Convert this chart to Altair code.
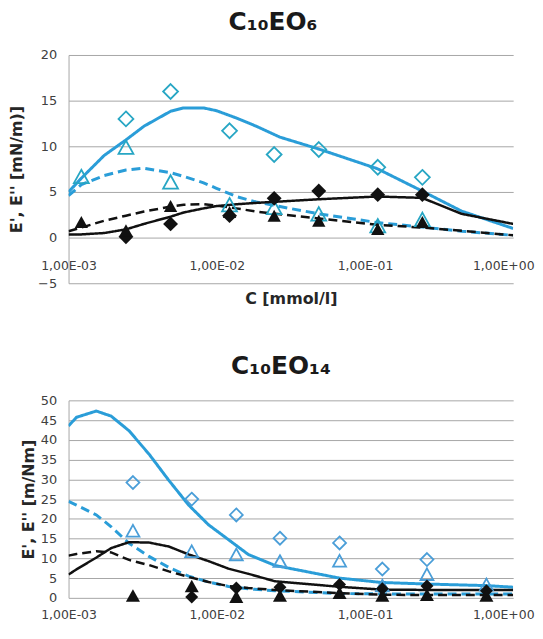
import altair as alt
import pandas as pd

# ---------------- C10EO6 (top panel) ----------------
top_title = "C\u2081\u2080EO\u2086"
top_ytitle = "E', E'' [mN/m)]"
top_xtitle = "C [mmol/l]"
top_conc = [0.00122, 0.00244, 0.00488, 0.0122, 0.0244, 0.0488, 0.122, 0.244]
top_cyan_diamond = [None, 13.0, 16.0, 11.7, 9.1, 9.65, 7.7, 6.6]
top_cyan_tri = [6.7, 9.9, 6.1, 3.6, 3.3, 2.6, 1.3, 2.0]
top_black_diamond = [None, 0.1, 1.5, 2.4, 4.3, 5.1, 4.7, 4.7]
top_black_tri = [1.7, 0.8, 3.45, 2.8, 2.4, 1.85, 0.95, 1.7]

top_grid = [0.001, 0.00122, 0.00174, 0.00244, 0.00323, 0.0049, 0.00598, 0.00815,
            0.00995, 0.01355, 0.01845, 0.0267, 0.0488, 0.121, 0.243, 0.449, 1.0]
top_cyan_solid = [5.0, 6.5, 9.0, 10.7, 12.2, 13.85, 14.2, 14.2, 13.9, 13.1, 12.2,
                  11.0, 9.7, 7.55, 5.1, 2.9, 1.0]
top_cyan_dash = [4.6, 5.8, 6.8, 7.4, 7.6, 7.1, 6.7, 6.0, 5.4, 4.5, 3.9, 3.4, 2.6,
                 1.65, 1.15, 0.7, 0.25]
top_black_solid = [0.35, 0.35, 0.5, 0.9, 1.5, 2.3, 2.75, 3.2, 3.45, 3.65, 3.8, 3.95,
                   4.2, 4.5, 4.35, 2.6, 1.5]
top_black_dash = [0.7, 1.1, 1.85, 2.4, 2.85, 3.4, 3.6, 3.65, 3.5, 3.2, 2.85, 2.55,
                  2.1, 1.4, 1.1, 0.75, 0.25]
top_yticks = [-5, 0, 5, 10, 15, 20]

# ---------------- C10EO14 (bottom panel) ----------------
bot_title = "C\u2081\u2080EO\u2081\u2084"
bot_ytitle = "E', E'' [m/Nm]"
bot_conc = [0.00272, 0.00678, 0.01355, 0.0267, 0.0674, 0.131, 0.262, 0.66]
bot_cyan_diamond = [29.2, 25.0, 21.0, 15.1, 13.9, 7.3, 9.7, None]
bot_cyan_tri = [17.0, 11.8, 11.0, 9.3, 9.4, 3.1, 6.0, 3.4]
bot_black_diamond = [None, 0.2, 2.5, 2.7, 3.4, 2.3, 3.0, 1.8]
bot_black_tri = [0.6, 3.0, 0.3, 0.6, 1.3, 0.6, 0.8, 0.6]

bot_grid = [0.001, 0.00113, 0.00154, 0.00194, 0.00256, 0.00349, 0.00475, 0.00646,
            0.0088, 0.01198, 0.0163, 0.0247, 0.0674, 0.1288, 0.2618, 0.66, 1.0]
bot_cyan_solid = [43.5, 45.7, 47.3, 46.0, 42.3, 36.4, 29.75, 23.5, 18.5, 14.75, 11.0,
                  8.2, 5.0, 3.9, 3.5, 3.1, 2.7]
bot_cyan_dash = [24.4, 23.5, 21.0, 18.0, 13.8, 10.5, 7.7, 5.5, 4.0, 2.9, 2.3, 1.8,
                 1.1, 1.0, 1.0, 1.0, 1.0]
bot_black_solid = [5.9, 7.2, 10.2, 12.6, 14.1, 14.0, 13.0, 11.0, 9.3, 7.4, 6.1, 4.2,
                   2.8, 2.1, 2.0, 2.0, 2.0]
bot_black_dash = [10.7, 11.1, 11.8, 11.5, 9.6, 8.3, 6.7, 5.3, 4.0, 3.0, 2.5, 2.0,
                  1.2, 0.8, 0.7, 0.7, 0.7]
bot_yticks = list(range(0, 55, 5))

# ---------------- shared ----------------
x_ticks = [0.001, 0.01, 0.1, 1.0]
x_tick_labels = ["1,00E-03", "1,00E-02", "1,00E-01", "1,00E+00"]

CYAN_LINE = "#2A9DD8"
CYAN_MARK_TOP = "#27A6C4"
CYAN_MARK_BOT = "#4A9ED8"
BLACK = "#111111"
GRID = "#A6A6A6"
LABEL = "#404040"
FONT = "DejaVu Sans"

DIAMOND = "M0,-1L1,0L0,1L-1,0Z"
TRIANGLE = "M0,-0.9L1,0.9L-1,0.9Z"


def label_expr():
    parts = []
    for i in range(len(x_ticks) - 1):
        thr = (x_ticks[i] * x_ticks[i + 1]) ** 0.5
        parts.append(f"datum.value < {thr} ? '{x_tick_labels[i]}' : ")
    return "".join(parts) + f"'{x_tick_labels[-1]}'"


def line_df(grid, vals):
    return pd.DataFrame({"c": grid, "v": vals})


def mark_df(conc, vals):
    rows = [(c, v) for c, v in zip(conc, vals) if v is not None]
    return pd.DataFrame(rows, columns=["c", "v"])


def panel(grid, lines, conc, markers, ydomain, yticks, ytitle, title, title_dx,
          width, height, x_offset, x_title, x_label_pad, x_title_pad,
          y_title_pad, y_label_pad, cyan_mark, sizes, title_offset):
    last_shift = {"condition": {"test": "datum.value > 0.5", "value": -10}, "value": 0}
    xkw = dict(values=x_ticks, labelExpr=label_expr(), grid=False, ticks=False,
               domain=False, labelFont=FONT, labelFontSize=12.5, labelAlign="center",
               labelColor=LABEL, labelPadding=x_label_pad, offset=x_offset,
               labelFlush=False, labelOverlap=False, labelOffset=last_shift)
    if x_title:
        xaxis = alt.Axis(title=x_title, titleFont=FONT, titleFontSize=16,
                         titleFontWeight="bold", titleColor="#262626",
                         titlePadding=x_title_pad, **xkw)
    else:
        xaxis = alt.Axis(title=None, **xkw)
    yaxis = alt.Axis(values=yticks, grid=True, gridColor=GRID, gridWidth=1,
                     ticks=False, domain=True, domainColor=GRID, domainWidth=1,
                     labelFont=FONT, labelFontSize=13, labelColor=LABEL,
                     labelPadding=y_label_pad, title=ytitle, titleFont=FONT,
                     titleFontSize=16, titleFontWeight="bold", titleColor="#262626",
                     titlePadding=y_title_pad)
    xs = alt.Scale(type="log", domain=[0.001, 1.0])
    ys = alt.Scale(domain=ydomain, nice=False, zero=False)

    layers = []
    styles = [(CYAN_LINE, [1, 0], 3.0), (CYAN_LINE, [9, 5], 3.0),
              (BLACK, [1, 0], 2.5), (BLACK, [9, 5], 2.5)]
    for vals, (col, dash, w) in zip(lines, styles):
        layers.append(alt.Chart(line_df(grid, vals)).mark_line(
            color=col, strokeWidth=w, strokeDash=dash, clip=True))

    mstyles = [(DIAMOND, cyan_mark, False), (TRIANGLE, cyan_mark, False),
               (DIAMOND, BLACK, True), (TRIANGLE, BLACK, True)]
    for vals, (shape, col, filled), size in zip(markers, mstyles, sizes):
        if filled:
            mk = alt.Chart(mark_df(conc, vals)).mark_point(
                shape=shape, filled=True, fill=col, opacity=1, size=size,
                strokeWidth=0)
        else:
            mk = alt.Chart(mark_df(conc, vals)).mark_point(
                shape=shape, filled=False, stroke=col, opacity=1, size=size,
                strokeWidth=1.8)
        layers.append(mk)

    return alt.layer(*layers).encode(
        x=alt.X("c:Q", scale=xs, axis=xaxis),
        y=alt.Y("v:Q", scale=ys, axis=yaxis),
    ).properties(
        width=width, height=height,
        title=alt.TitleParams(title, font=FONT, fontSize=25, fontWeight="bold",
                              color="#1a1a1a", dx=title_dx, offset=title_offset,
                              anchor="middle"))


top = panel(top_grid, [top_cyan_solid, top_cyan_dash, top_black_solid, top_black_dash],
            top_conc, [top_cyan_diamond, top_cyan_tri, top_black_diamond, top_black_tri],
            [-5, 20], top_yticks, top_ytitle, top_title, -18, 448, 230, -46,
            top_xtitle, 22, 19, 13, 12, CYAN_MARK_TOP, [225, 225, 225, 180], 14)

bot = panel(bot_grid, [bot_cyan_solid, bot_cyan_dash, bot_black_solid, bot_black_dash],
            bot_conc, [bot_cyan_diamond, bot_cyan_tri, bot_black_diamond, bot_black_tri],
            [0, 50], bot_yticks, bot_ytitle, bot_title, -10, 448, 199, 0,
            None, 11, 0, 4, 12, CYAN_MARK_BOT, [170, 170, 170, 200], 16)

chart = alt.vconcat(top, bot, spacing=47).properties(
    padding={"left": 0, "top": 0, "right": 0, "bottom": 0},
    background="white",
).configure_view(stroke=None)

chart.save("out.html", embed_options={"renderer": "svg", "actions": False})
